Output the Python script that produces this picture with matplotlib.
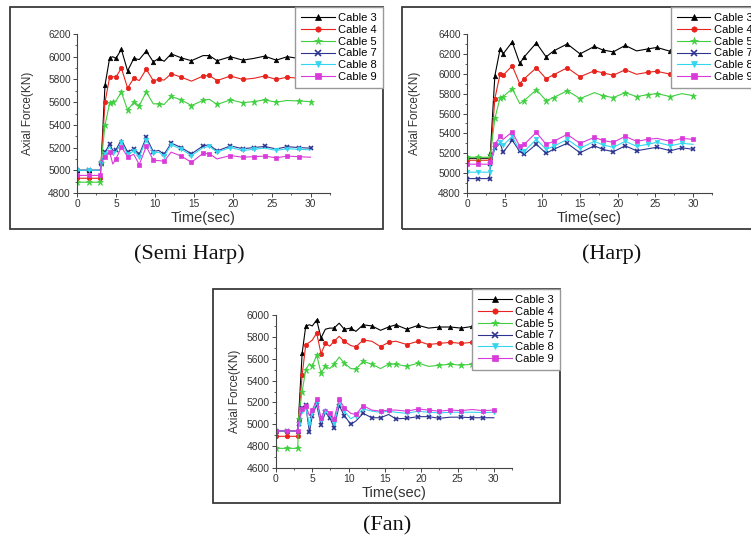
import matplotlib
matplotlib.use("Agg")
from matplotlib import pyplot as plt
from matplotlib.patches import Rectangle
from matplotlib.ticker import MultipleLocator

plt.rcParams['font.family'] = ['Liberation Sans', 'DejaVu Sans']

# Semi Harp
semi_t = [0, 1.5, 3.0, 3.1, 3.6, 4.2, 4.6, 5.0, 5.7, 6.5, 7.3, 8.0, 8.9, 9.8, 10.5,
          11.2, 12.1, 13.4, 14.7, 16.2, 17.0, 18.0, 19.7, 21.3, 22.7, 24.1, 25.6, 27.0, 28.5, 30.0]
semi_c3 = [5000, 5000, 5000, 5060, 5750, 5990, 6000, 5985, 6065, 5875, 5985, 5975, 6050, 5955, 5985,
           5960, 6025, 5990, 5965, 6010, 6010, 5965, 6000, 5970, 5985, 6005, 5970, 6000, 5985, 5995]
semi_c4 = [4930, 4930, 4930, 5060, 5600, 5820, 5825, 5820, 5900, 5725, 5810, 5790, 5890, 5790, 5800,
           5795, 5850, 5820, 5785, 5830, 5835, 5790, 5830, 5800, 5810, 5830, 5800, 5820, 5810, 5820]
semi_c5 = [4895, 4895, 4895, 5060, 5400, 5590, 5605, 5610, 5690, 5530, 5600, 5570, 5690, 5585, 5585,
           5580, 5650, 5620, 5570, 5615, 5625, 5580, 5620, 5595, 5605, 5620, 5600, 5615, 5610, 5605]
semi_c7 = [5000, 5000, 5000, 5060, 5160, 5230, 5175, 5180, 5270, 5160, 5190, 5140, 5290, 5165, 5175,
           5140, 5240, 5200, 5145, 5215, 5225, 5170, 5215, 5190, 5200, 5210, 5188, 5208, 5200, 5195]
semi_c8 = [5000, 5000, 5000, 5060, 5140, 5210, 5150, 5160, 5250, 5140, 5170, 5120, 5270, 5150, 5160,
           5125, 5225, 5185, 5130, 5200, 5210, 5160, 5200, 5175, 5185, 5195, 5175, 5190, 5185, 5180]
semi_c9 = [4955, 4955, 4955, 5060, 5120, 5160, 5055, 5100, 5205, 5120, 5140, 5050, 5210, 5090, 5085,
           5080, 5160, 5125, 5070, 5150, 5145, 5100, 5130, 5115, 5120, 5125, 5110, 5125, 5120, 5115]

# Harp
harp_t = [0, 1.5, 3.0, 3.1, 3.7, 4.4, 4.8, 6.0, 7.0, 7.6, 9.2, 10.5, 11.5, 13.3, 15.0,
          16.9, 18.0, 19.4, 21.0, 22.5, 24.0, 25.2, 27.0, 28.5, 30.0]
harp_c3 = [5150, 5150, 5150, 5200, 5980, 6250, 6200, 6320, 6105, 6170, 6310, 6170, 6230, 6300, 6200,
           6275, 6240, 6220, 6285, 6230, 6250, 6265, 6225, 6240, 6235]
harp_c4 = [5130, 5130, 5130, 5150, 5750, 6000, 5985, 6080, 5900, 5950, 6060, 5950, 5990, 6060, 5970,
           6030, 6010, 5985, 6040, 5995, 6015, 6025, 5995, 6010, 6000]
harp_c5 = [5160, 5160, 5160, 5180, 5550, 5760, 5770, 5850, 5700, 5730, 5840, 5730, 5760, 5830, 5750,
           5810, 5780, 5760, 5810, 5770, 5790, 5800, 5770, 5800, 5780]
harp_c7 = [4945, 4945, 4945, 5090, 5250, 5300, 5210, 5330, 5220, 5190, 5290, 5200, 5240, 5300, 5205,
           5275, 5240, 5215, 5275, 5225, 5245, 5260, 5225, 5255, 5240]
harp_c8 = [5010, 5010, 5010, 5100, 5260, 5310, 5280, 5370, 5230, 5220, 5340, 5240, 5270, 5340, 5250,
           5320, 5285, 5260, 5320, 5270, 5290, 5310, 5275, 5300, 5290]
harp_c9 = [5090, 5090, 5090, 5110, 5290, 5370, 5340, 5415, 5270, 5290, 5410, 5290, 5320, 5390, 5300,
           5360, 5330, 5310, 5370, 5320, 5340, 5350, 5320, 5350, 5340]

# Fan
fan_t = [0, 1.5, 3.0, 3.1, 3.6, 4.1, 4.6, 5.0, 5.6, 6.2, 6.8, 7.4, 8.0, 8.7, 9.4, 10.3,
         11.0, 12.0, 13.2, 14.4, 15.5, 16.5, 18.0, 19.6, 21.0, 22.5, 24.0, 25.5, 27.0, 28.5, 30.0]
fan_c3 = [4940, 4940, 4940, 5050, 5650, 5900, 5910, 5900, 5955, 5790, 5870, 5880, 5880, 5925, 5870, 5880,
          5850, 5910, 5900, 5860, 5890, 5910, 5870, 5905, 5880, 5890, 5890, 5880, 5895, 5885, 5890]
fan_c4 = [4890, 4890, 4890, 5050, 5450, 5730, 5750, 5770, 5835, 5645, 5740, 5715, 5760, 5805, 5760, 5720,
          5710, 5770, 5760, 5710, 5750, 5760, 5730, 5760, 5730, 5740, 5750, 5740, 5750, 5745, 5750]
fan_c5 = [4780, 4780, 4780, 5050, 5300, 5500, 5555, 5530, 5635, 5470, 5530, 5510, 5550, 5615, 5560, 5510,
          5505, 5575, 5550, 5510, 5550, 5550, 5530, 5560, 5530, 5540, 5550, 5540, 5550, 5545, 5550]
fan_c7 = [4940, 4940, 4940, 5000, 5150, 5175, 4925, 5080, 5180, 4990, 5110, 5060, 4970, 5170, 5080, 5000,
          5030, 5100, 5060, 5060, 5090, 5050, 5055, 5070, 5070, 5055, 5065, 5065, 5060, 5060, 5060]
fan_c8 = [4940, 4940, 4940, 5000, 5120, 5150, 5000, 5100, 5200, 5040, 5120, 5080, 5010, 5200, 5120, 5050,
          5080, 5140, 5120, 5110, 5120, 5110, 5100, 5120, 5110, 5105, 5110, 5110, 5110, 5108, 5110]
fan_c9 = [4940, 4940, 4940, 5010, 5140, 5170, 5080, 5130, 5230, 5060, 5140, 5100, 5050, 5230, 5150, 5100,
          5090, 5170, 5130, 5120, 5130, 5130, 5120, 5140, 5130, 5120, 5130, 5125, 5135, 5125, 5130]

labels = ["Cable 3", "Cable 4", "Cable 5", "Cable 7", "Cable 8", "Cable 9"]
colors = ['#000000', '#e8231d', '#3fcf3f', '#2d3591', '#33d6f0', '#d93ad9']
markers = ['^', 'o', '*', 'x', 'v', 's']


def draw_panel(fig, rect, box, t, series, ylim, fsize, ypad, leg_anchor, leg_loc, caption, cap_xy):
    ax = fig.add_axes(rect)
    for vals, lab, col, mk in zip(series, labels, colors, markers):
        ms = 4.5 if mk == '*' else 3.2
        mew = 1.2 if mk == 'x' else 0.5
        ax.plot(t, vals, color=col, lw=0.8, marker=mk, ms=ms, mew=mew,
                markevery=0.045, label=lab)
    ax.set_xlim(0, 32.5)
    ax.set_ylim(*ylim)
    ax.xaxis.set_major_locator(MultipleLocator(5))
    ax.xaxis.set_minor_locator(MultipleLocator(2.5))
    ax.yaxis.set_major_locator(MultipleLocator(200))
    ax.yaxis.set_minor_locator(MultipleLocator(100))
    for s in ['top', 'right']:
        ax.spines[s].set_visible(False)
    for s in ['left', 'bottom']:
        ax.spines[s].set_color('#444444')
        ax.spines[s].set_linewidth(0.8)
    ax.tick_params(which='major', direction='out', length=3, width=0.7,
                   labelsize=fsize, colors='#444444', labelcolor='#333333', pad=1.5)
    ax.tick_params(which='minor', direction='out', length=1.5, width=0.6, colors='#444444')
    ax.set_xlabel("Time(sec)", fontsize=10.5, color='#333333', labelpad=1)
    ax.set_ylabel("Axial Force(KN)", fontsize=8.5, color='#333333', labelpad=ypad)

    fig.patches.append(Rectangle(box[:2], box[2], box[3], transform=fig.transFigure,
                                 fill=False, ec='#3a3a3a', lw=1.3, zorder=-1))
    handles, labs = ax.get_legend_handles_labels()
    fig.legend(handles, labs, loc=leg_loc, bbox_to_anchor=leg_anchor, fontsize=8,
               frameon=True, fancybox=False, edgecolor='#999999', framealpha=1,
               handlelength=3.0, handletextpad=0.3, labelspacing=0.16,
               borderpad=0.55, borderaxespad=0, markerscale=1.2)
    fig.text(cap_xy[0], cap_xy[1], caption, fontsize=16, family='Liberation Serif',
             ha='center', va='center', color='#111111')


fig = plt.figure(figsize=(7.51, 5.39), dpi=100)

draw_panel(fig, [0.1025, 0.6419, 0.3369, 0.2950], (0.0133, 0.5751, 0.4967, 0.4119),
           semi_t, [semi_c3, semi_c4, semi_c5, semi_c7, semi_c8, semi_c9],
           (4800, 6200), 7.3, 10, (0.51, 0.987), 'upper right', "(Semi Harp)", (0.252, 0.529))
draw_panel(fig, [0.6218, 0.6419, 0.3262, 0.2950], (0.5353, 0.5751, 0.47, 0.4119),
           harp_t, [harp_c3, harp_c4, harp_c5, harp_c7, harp_c8, harp_c9],
           (4800, 6400), 7.3, 12, (0.8935, 0.987), 'upper left', "(Harp)", (0.815, 0.529))
draw_panel(fig, [0.3675, 0.1317, 0.3143, 0.2839], (0.2836, 0.0668, 0.4621, 0.3970),
           fan_t, [fan_c3, fan_c4, fan_c5, fan_c7, fan_c8, fan_c9],
           (4600, 6000), 7.5, 4, (0.7457, 0.4638), 'upper right', "(Fan)", (0.515, 0.025))

fig.savefig("out.png", dpi=100)
